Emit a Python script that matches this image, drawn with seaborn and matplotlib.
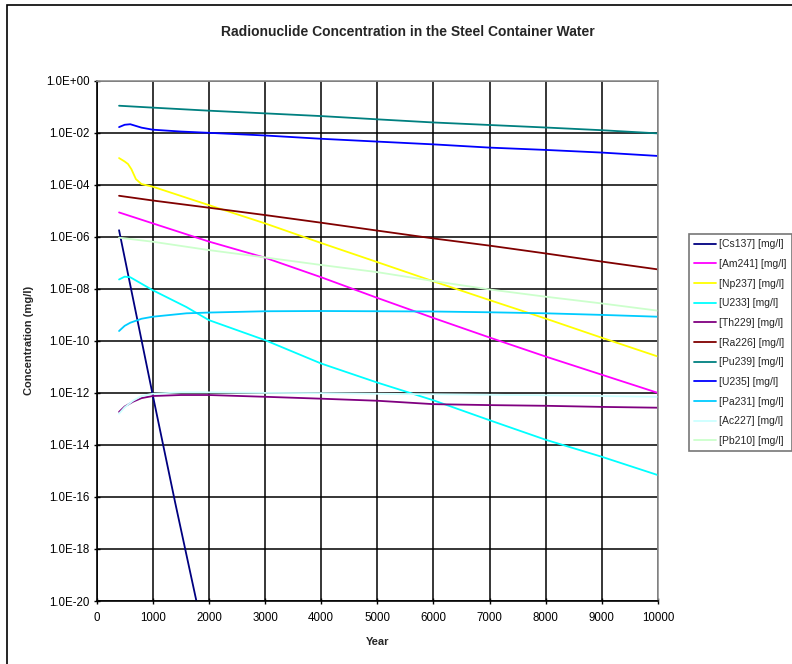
import numpy as np
import pandas as pd
import matplotlib
matplotlib.use("Agg")
import matplotlib.pyplot as plt
from matplotlib.patches import Rectangle
from matplotlib.ticker import FixedLocator, FuncFormatter
import seaborn as sns

title = "Radionuclide Concentration in the Steel Container Water"
x_label = "Year"
y_label = "Concentration (mg/l)"

names = ["[Cs137] [mg/l]", "[Am241] [mg/l]", "[Np237] [mg/l]", "[U233] [mg/l]",
         "[Th229] [mg/l]", "[Ra226] [mg/l]", "[Pu239] [mg/l]", "[U235] [mg/l]",
         "[Pa231] [mg/l]", "[Ac227] [mg/l]", "[Pb210] [mg/l]"]
colors = ["#000080", "#FF00FF", "#FFFF00", "#00FFFF", "#800080", "#800000",
          "#008080", "#0000FF", "#00CCFF", "#CCFFFF", "#CCFFCC"]

cs137_x = [400, 1000, 1400, 1800, 1900]
cs137_y = [1.8e-6, 8.3e-13, 6e-17, 6e-21, 6e-22]

std_x = [400, 1000, 2000, 3000, 4000, 5000, 6000, 7000, 8000, 9000, 10000]
am241_y = [8.7e-6, 3.3e-6, 6.6e-7, 1.58e-7, 2.8e-8, 4.5e-9, 7.6e-10, 1.35e-10, 2.5e-11, 5.0e-12, 1.0e-12]
ra226_y = [3.8e-5, 2.5e-5, 1.32e-5, 6.9e-6, 3.5e-6, 1.74e-6, 8.7e-7, 4.6e-7, 2.3e-7, 1.12e-7, 5.6e-8]
pu239_y = [1.1e-1, 9.3e-2, 7.1e-2, 5.6e-2, 4.4e-2, 3.3e-2, 2.5e-2, 2.0e-2, 1.6e-2, 1.26e-2, 9.5e-3]
pb210_y = [9.3e-7, 6.5e-7, 3.1e-7, 1.62e-7, 8.3e-8, 4.4e-8, 2.0e-8, 9.5e-9, 5.0e-9, 2.75e-9, 1.45e-9]

np237_x = [400, 500, 560, 620, 700, 800, 1000, 2000, 3000, 4000, 5000, 6000, 7000, 8000, 9000, 10000]
np237_y = [1.07e-3, 7.9e-4, 6.3e-4, 4.0e-4, 1.66e-4, 1.07e-4, 8.5e-5, 1.66e-5, 3.3e-6, 5.8e-7,
           1.07e-7, 1.95e-8, 3.7e-9, 7.2e-10, 1.32e-10, 2.5e-11]

u235_x = [400, 500, 600, 800, 1000, 1500, 2000, 3000, 4000, 5000, 6000, 7000, 8000, 9000, 10000]
u235_y = [1.66e-2, 2.04e-2, 2.14e-2, 1.58e-2, 1.32e-2, 1.12e-2, 1.0e-2, 7.9e-3, 5.9e-3, 4.6e-3,
          3.6e-3, 2.7e-3, 2.2e-3, 1.74e-3, 1.29e-3]

ext_x = [400, 500, 600, 800, 1000, 1600, 2000, 3000, 4000, 5000, 6000, 7000, 8000, 9000, 10000]
u233_y = [2.3e-8, 2.95e-8, 2.8e-8, 1.58e-8, 8.9e-9, 2.0e-9, 6.3e-10, 1.07e-10, 1.35e-11, 2.5e-12,
          5.2e-13, 8.9e-14, 1.58e-14, 3.5e-15, 6.9e-16]
pa231_y = [2.4e-10, 3.8e-10, 5.0e-10, 7.1e-10, 8.5e-10, 1.15e-9, 1.23e-9, 1.38e-9, 1.41e-9, 1.38e-9,
           1.35e-9, 1.26e-9, 1.15e-9, 1.0e-9, 8.5e-10]

th_x = [400, 500, 650, 800, 1000, 1500, 2000, 3000, 4000, 5000, 6000, 7000, 8000, 9000, 10000]
th229_y = [1.86e-13, 3.0e-13, 4.6e-13, 6.3e-13, 7.6e-13, 8.3e-13, 8.3e-13, 7.1e-13, 6.0e-13, 5.0e-13,
           3.7e-13, 3.4e-13, 3.2e-13, 2.9e-13, 2.7e-13]
ac227_y = [1.6e-13, 2.8e-13, 5.0e-13, 7.6e-13, 9.3e-13, 1.05e-12, 1.05e-12, 1.0e-12, 9.8e-13, 9.3e-13,
           8.9e-13, 8.5e-13, 8.1e-13, 7.6e-13, 7.1e-13]

x_ticks = [0, 1000, 2000, 3000, 4000, 5000, 6000, 7000, 8000, 9000, 10000]
y_exps = [0, -2, -4, -6, -8, -10, -12, -14, -16, -18, -20]

series = [
    (names[0], cs137_x, cs137_y),
    (names[1], std_x, am241_y),
    (names[2], np237_x, np237_y),
    (names[3], ext_x, u233_y),
    (names[4], th_x, th229_y),
    (names[5], std_x, ra226_y),
    (names[6], std_x, pu239_y),
    (names[7], u235_x, u235_y),
    (names[8], ext_x, pa231_y),
    (names[9], th_x, ac227_y),
    (names[10], std_x, pb210_y),
]
frames = [pd.DataFrame({"Nuclide": n, "Year": xs, "Conc": ys}) for n, xs, ys in series]
df = pd.concat(frames, ignore_index=True)

sns.set_theme(style="white")
plt.rcParams["font.family"] = ["Liberation Sans", "DejaVu Sans"]

fig = plt.figure(figsize=(7.92, 6.64), dpi=100)
# outer chart frame
fig.patches.append(Rectangle((7 / 792, -0.1), 1.2, 1 - 5 / 664 + 0.1, transform=fig.transFigure,
                             fill=False, edgecolor="#000000", linewidth=1.2))
ax = fig.add_axes([96.6 / 792, 1 - 601 / 664, (658 - 96.6) / 792, (601 - 80.8) / 664])

sns.lineplot(data=df, x="Year", y="Conc", hue="Nuclide", hue_order=names,
             palette=dict(zip(names, colors)), estimator=None, sort=False,
             linewidth=1.3, ax=ax, legend=True)

ax.set_yscale("log")
ax.set_xlim(0, 10000)
ax.set_ylim(1e-20, 1e0)
ax.xaxis.set_major_locator(FixedLocator(x_ticks))
ax.yaxis.set_major_locator(FixedLocator([10.0 ** e for e in y_exps]))
ax.yaxis.set_minor_locator(FixedLocator([]))
ax.yaxis.set_major_formatter(FuncFormatter(lambda v, p: "1.0E%+03d" % int(round(np.log10(v)))))
ax.grid(True, which="major", color="#000000", linewidth=1.1)
ax.set_axisbelow(True)
for s in ["top", "right"]:
    ax.spines[s].set_color("#909090")
    ax.spines[s].set_linewidth(1.2)
for s in ["left", "bottom"]:
    ax.spines[s].set_color("#000000")
    ax.spines[s].set_linewidth(1.2)
ax.tick_params(axis="both", which="major", labelsize=8.3, colors="#000000", length=4,
               width=1, direction="inout", pad=3, left=True, bottom=True)
ax.tick_params(axis="x", pad=6)
ax.set_xlabel(x_label, fontsize=8, fontweight="bold", labelpad=9)
ax.set_ylabel(y_label, fontsize=8, fontweight="bold", labelpad=9)

fig.text(408 / 792, 1 - 32 / 664, title, ha="center", va="center", fontsize=10, fontweight="bold")

handles, labels = ax.get_legend_handles_labels()
ax.get_legend().remove()
leg = fig.legend(handles, labels, loc="upper left", bbox_to_anchor=(689 / 792, 1 - 234 / 664),
                 fontsize=7.5, frameon=True, fancybox=False, borderpad=0.5, labelspacing=0.93,
                 handlelength=2.1, handletextpad=0.3, borderaxespad=0)
leg.get_frame().set_edgecolor("#555555")
leg.get_frame().set_linewidth(1.2)

fig.savefig("out.png", dpi=100)
